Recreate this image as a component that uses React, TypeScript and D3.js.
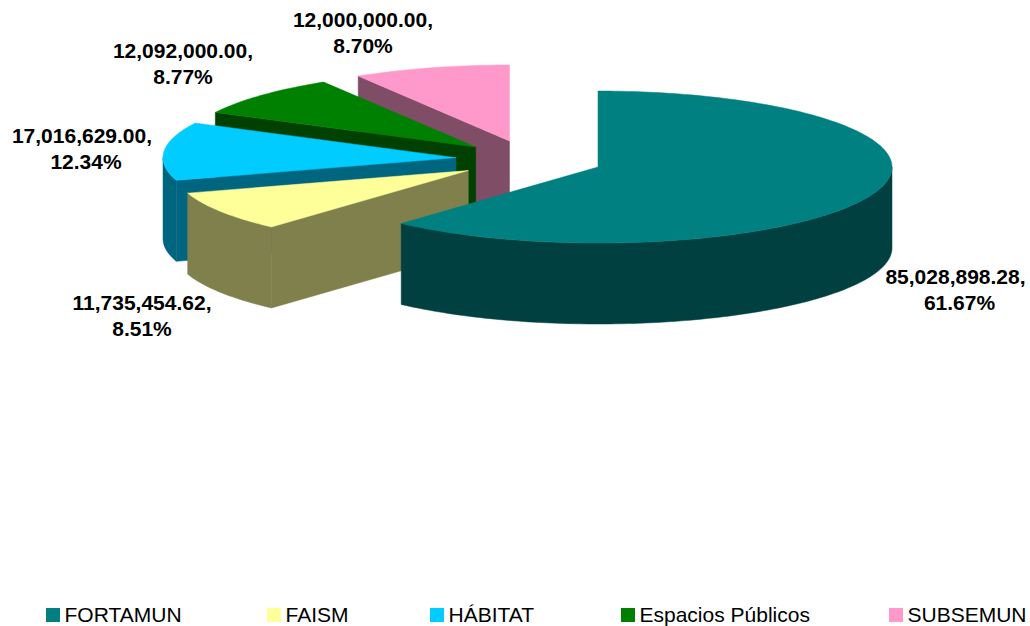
import React from "react";
import * as d3 from "d3";

const categories = ["FORTAMUN", "FAISM", "HÁBITAT", "Espacios Públicos", "SUBSEMUN"];
const values = [85028898.28, 11735454.62, 17016629.0, 12092000.0, 12000000.0];
const topColors = ["#008080", "#FFFF99", "#00CCFF", "#008000", "#FF99CC"];
const sideColors = ["#004040", "#80804D", "#006680", "#004000", "#804D66"];

const W = 1030, H = 626;
const RY = 76, DEPTH = 81;
const sliceRx = [294, 294, 293, 292.5, 291];
const sliceCenters: [number, number][] = [[598, 167], [468.3, 170.5], [456, 157.7], [475.7, 147], [509.5, 141]];
const labelPos: [number, number][] = [[955.5, 284], [142, 310], [82, 143], [183, 58], [363, 27]];
const secondLineDx = [4, 0, 4, 0, 0];
const legendX = [46, 267, 430, 621, 889];

const fmt = d3.format(",.2f");
const pct = d3.format(".2%");
const total = d3.sum(values);
const arcs = d3.pie<number>().sort(null).startAngle(0).endAngle(2 * Math.PI)(values);

const proj = (c: [number, number], rx: number, a: number, dy = 0): [number, number] => [
  c[0] + rx * Math.sin(a),
  c[1] - RY * Math.cos(a) + dy,
];
const samples = (a0: number, a1: number) => {
  const n = Math.max(2, Math.ceil((a1 - a0) / 0.02));
  return d3.range(n + 1).map((i) => a0 + ((a1 - a0) * i) / n);
};
const line = d3.line();

export default function App() {
  const order = d3.range(values.length).reverse();
  return (
    <svg width={W} height={H} viewBox={`0 0 ${W} ${H}`} style={{ position: "absolute", left: 0, top: 0, background: "#fff" }}
      fontFamily="'Liberation Sans', Arial, sans-serif">
      {order.map((i) => {
        const c = sliceCenters[i];
        const rx = sliceRx[i];
        const { startAngle: a0, endAngle: a1 } = arcs[i];
        const top = [c as [number, number], ...samples(a0, a1).map((a) => proj(c, rx, a))];
        const w0 = Math.max(a0, Math.PI / 2), w1 = Math.min(a1, 1.5 * Math.PI);
        const wallTop = w1 > w0 ? samples(w0, w1).map((a) => proj(c, rx, a)) : [];
        const wallBot = w1 > w0 ? samples(w0, w1).reverse().map((a) => proj(c, rx, a, DEPTH)) : [];
        const p0 = proj(c, rx, a0);
        return (
          <g key={categories[i]}>
            {i > 0 && (
              <path
                d={line([c, p0, [p0[0], p0[1] + DEPTH], [c[0], c[1] + DEPTH]])! + "Z"}
                fill={sideColors[i]} stroke={sideColors[i]} strokeWidth={0.5}
              />
            )}
            {wallTop.length > 0 && (
              <path d={line([...wallTop, ...wallBot])! + "Z"} fill={sideColors[i]} stroke={sideColors[i]} strokeWidth={0.5} />
            )}
            <path d={line(top)! + "Z"} fill={topColors[i]} stroke={topColors[i]} strokeWidth={0.5} />
          </g>
        );
      })}
      {values.map((v, i) => (
        <text key={i} textAnchor="middle" fontWeight="bold" fontSize={21} fill="#000">
          <tspan x={labelPos[i][0]} y={labelPos[i][1]}>{fmt(v)},</tspan>
          <tspan x={labelPos[i][0] + secondLineDx[i]} y={labelPos[i][1] + 26}>{pct(v / total)}</tspan>
        </text>
      ))}
      {categories.map((name, i) => (
        <g key={name}>
          <rect x={legendX[i]} y={608} width={14} height={14} fill={topColors[i]} />
          <text x={legendX[i] + 18.5} y={622} fontSize={21} fill="#000">{name}</text>
        </g>
      ))}
    </svg>
  );
}
